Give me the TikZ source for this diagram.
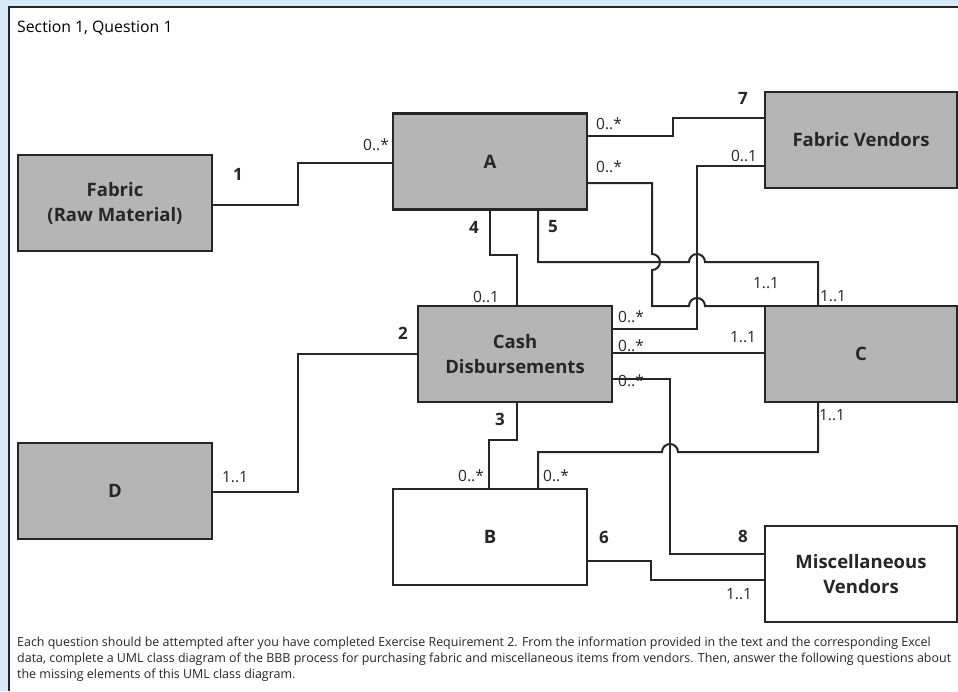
\documentclass[tikz,border=0pt]{standalone}
\usepackage{fontspec}
\setmainfont{Open Sans}
\definecolor{bgblue}{HTML}{D6EAF8}
\definecolor{boxgray}{HTML}{B5B5B5}
\definecolor{ink}{HTML}{262626}
\begin{document}
\begin{tikzpicture}[x=1pt,y=-1pt,
  cls/.style={draw=ink, line width=2.5pt, minimum width=194pt, minimum height=96pt, inner sep=0pt, outer sep=0pt, align=center, text=ink, font=\fontsize{18.5}{25}\selectfont\bfseries},
  grey/.style={fill=boxgray},
  conn/.style={draw=ink, line width=2pt},
  mult/.style={font=\fontsize{15.5}{16}\selectfont, text=ink, inner sep=0pt},
  num/.style={font=\fontsize{17}{18}\selectfont\bfseries, text=ink, inner sep=0pt},
  para/.style={font=\fontsize{12.45}{14}\selectfont, text=ink, inner sep=0pt, anchor=base west}]
\useasboundingbox (0,0) rectangle (958,691);
\fill[bgblue] (0,0) rectangle (958,691);
\fill[white] (9,7) rectangle (958,691);
\draw[ink, line width=1.5pt] (9,691) -- (9,7) -- (958,7);
\node[anchor=base west, inner sep=0pt, text=black, font=\fontsize{15.8}{17}\selectfont] (title) at (17,32) {Section 1, Question 1};
% classes
\node[cls, grey] (Fab) at (115,203) {Fabric\\(Raw Material)};
\node[cls, grey] (D) at (115,491) {D};
\node[cls, grey] (A) at (490,161.5) {A};
\node[cls, grey] (CD) at (515,354) {Cash\\Disbursements};
\node[cls] (B) at (490,537) {B};
\node[cls, grey, minimum width=192pt] (FV) at (861,140) {Fabric Vendors};
\node[cls, grey, minimum width=192pt] (C) at (861,354) {C};
\node[cls, minimum width=192pt] (MV) at (861,574) {Miscellaneous\\Vendors};
% connectors
\draw[conn] (Fab.east |- 0,205) -- (298,205) -- (298,163) -- (A.west |- 0,163);
\draw[conn] (D.east |- 0,492) -- (298,492) -- (298,354) -- (CD.west |- 0,354);
\draw[conn] (A.east |- 0,136) -- (673,136) -- (673,118) -- (FV.west |- 0,118);
\draw[conn] (A.east |- 0,183) -- (652,183) -- (652,254) arc[start angle=90, end angle=-90, radius=8pt] -- (652,306) -- (689,306) arc[start angle=180, end angle=0, radius=8pt] -- (C.north west);
\draw[conn] (538,0 |- A.south) -- (538,262) -- (689,262) arc[start angle=180, end angle=0, radius=8pt] -- (818,262) -- (818,0 |- C.north);
\draw[conn] (490,0 |- A.south) -- (490,255) -- (517,255) -- (517,0 |- CD.north);
\draw[conn] (CD.east |- 0,329) -- (697,329) -- (697,166) -- (FV.west |- 0,166);
\draw[conn] (CD.east |- 0,353) -- (C.west |- 0,353);
\draw[conn] (CD.east |- 0,379) -- (670,379) -- (670,554) -- (MV.west |- 0,554);
\draw[conn] (818,0 |- C.south) -- (818,452) -- (678,452) arc[start angle=0, end angle=180, radius=8pt] -- (538,452) -- (538,0 |- B.north);
\draw[conn] (517,0 |- CD.south) -- (517,440) -- (489,440) -- (489,0 |- B.north);
\draw[conn] (B.east |- 0,561) -- (651,561) -- (651,580) -- (MV.west |- 0,580);
% multiplicities
\node[mult] (m1) at (376,145) {0..*};
\node[mult] (m2) at (609,124) {0..*};
\node[mult] (m3) at (609,167) {0..*};
\node[mult] (m4) at (744,156) {0..1};
\node[mult] (m5) at (486,297) {0..1};
\node[mult] (m6) at (766,283) {1..1};
\node[mult] (m7) at (833,296) {1..1};
\node[mult] (m8) at (631,317) {0..*};
\node[mult] (m9) at (631,346) {0..*};
\node[mult] (m10) at (743,337) {1..1};
\node[mult] (m11) at (631,381) {0..*};
\node[mult] (m12) at (832,415) {1..1};
\node[mult] (m13) at (471,476) {0..*};
\node[mult] (m14) at (556,476) {0..*};
\node[mult] (m15) at (739,594) {1..1};
\node[mult] (m16) at (235,477) {1..1};
% association numbers
\node[num] (n1) at (238,174) {1};
\node[num] (n2) at (403,333) {2};
\node[num] (n3) at (500,419) {3};
\node[num] (n4) at (474,227) {4};
\node[num] (n5) at (553,227) {5};
\node[num] (n6) at (604,537) {6};
\node[num] (n7) at (743,98) {7};
\node[num] (n8) at (743,536) {8};
% paragraph
\node[para] (p1) at (17,646) {Each question should be attempted after you have completed Exercise Requirement 2. From the information provided in the text and the corresponding Excel};
\node[para] (p2) at (17,662) {data, complete a UML class diagram of the BBB process for purchasing fabric and miscellaneous items from vendors. Then, answer the following questions about};
\node[para] (p3) at (17,678) {the missing elements of this UML class diagram.};
\end{tikzpicture}
\end{document}
